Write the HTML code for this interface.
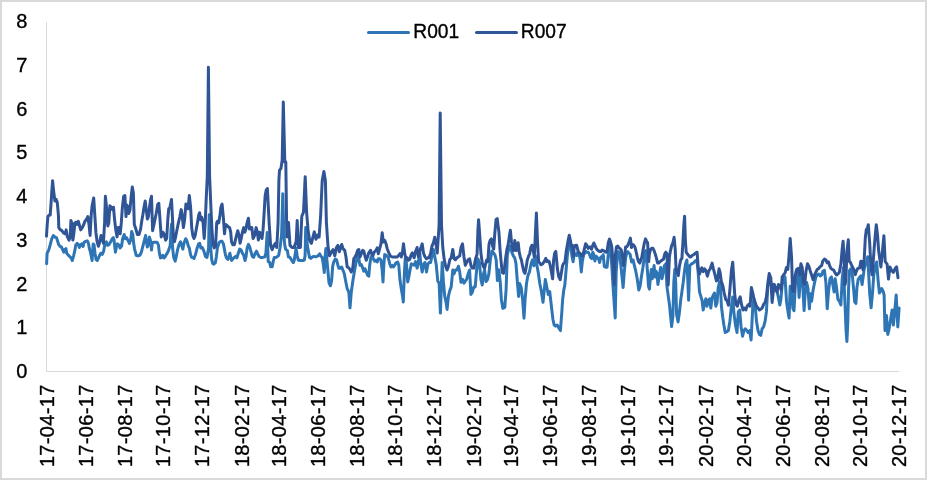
<!DOCTYPE html>
<html><head><meta charset="utf-8"><title>R001 R007</title>
<style>
html,body{margin:0;padding:0;background:#fff;}
body{width:927px;height:480px;overflow:hidden;}
svg{display:block;will-change:transform;font-family:"Liberation Sans",sans-serif;fill:#000;}
text{stroke:#000;stroke-width:0.35px;}
</style></head><body>
<svg width="927" height="480" viewBox="0 0 927 480">
<rect x="1" y="1" width="925" height="478" fill="#fff" stroke="#d9d9d9" stroke-width="2"/>
<path d="M46.5 22V371.5H899" fill="none" stroke="#d9d9d9" stroke-width="1"/>
<text x="27.3" y="378.16" text-anchor="end" font-size="20">0</text>
<text x="27.3" y="334.41" text-anchor="end" font-size="20">1</text>
<text x="27.3" y="290.66" text-anchor="end" font-size="20">2</text>
<text x="27.3" y="246.91" text-anchor="end" font-size="20">3</text>
<text x="27.3" y="203.16" text-anchor="end" font-size="20">4</text>
<text x="27.3" y="159.41" text-anchor="end" font-size="20">5</text>
<text x="27.3" y="115.66" text-anchor="end" font-size="20">6</text>
<text x="27.3" y="71.91" text-anchor="end" font-size="20">7</text>
<text x="27.3" y="28.16" text-anchor="end" font-size="20">8</text>
<text transform="translate(53.96,384.7) rotate(-90)" text-anchor="end" font-size="20" textLength="82.4" lengthAdjust="spacing">17-04-17</text>
<text transform="translate(92.76,384.7) rotate(-90)" text-anchor="end" font-size="20" textLength="82.4" lengthAdjust="spacing">17-06-17</text>
<text transform="translate(131.55,384.7) rotate(-90)" text-anchor="end" font-size="20" textLength="82.4" lengthAdjust="spacing">17-08-17</text>
<text transform="translate(170.35,384.7) rotate(-90)" text-anchor="end" font-size="20" textLength="82.4" lengthAdjust="spacing">17-10-17</text>
<text transform="translate(209.15,384.7) rotate(-90)" text-anchor="end" font-size="20" textLength="82.4" lengthAdjust="spacing">17-12-17</text>
<text transform="translate(248.58,384.7) rotate(-90)" text-anchor="end" font-size="20" textLength="82.4" lengthAdjust="spacing">18-02-17</text>
<text transform="translate(286.10,384.7) rotate(-90)" text-anchor="end" font-size="20" textLength="82.4" lengthAdjust="spacing">18-04-17</text>
<text transform="translate(324.90,384.7) rotate(-90)" text-anchor="end" font-size="20" textLength="82.4" lengthAdjust="spacing">18-06-17</text>
<text transform="translate(363.70,384.7) rotate(-90)" text-anchor="end" font-size="20" textLength="82.4" lengthAdjust="spacing">18-08-17</text>
<text transform="translate(402.49,384.7) rotate(-90)" text-anchor="end" font-size="20" textLength="82.4" lengthAdjust="spacing">18-10-17</text>
<text transform="translate(441.29,384.7) rotate(-90)" text-anchor="end" font-size="20" textLength="82.4" lengthAdjust="spacing">18-12-17</text>
<text transform="translate(480.72,384.7) rotate(-90)" text-anchor="end" font-size="20" textLength="82.4" lengthAdjust="spacing">19-02-17</text>
<text transform="translate(518.25,384.7) rotate(-90)" text-anchor="end" font-size="20" textLength="82.4" lengthAdjust="spacing">19-04-17</text>
<text transform="translate(557.04,384.7) rotate(-90)" text-anchor="end" font-size="20" textLength="82.4" lengthAdjust="spacing">19-06-17</text>
<text transform="translate(595.84,384.7) rotate(-90)" text-anchor="end" font-size="20" textLength="82.4" lengthAdjust="spacing">19-08-17</text>
<text transform="translate(634.64,384.7) rotate(-90)" text-anchor="end" font-size="20" textLength="82.4" lengthAdjust="spacing">19-10-17</text>
<text transform="translate(673.43,384.7) rotate(-90)" text-anchor="end" font-size="20" textLength="82.4" lengthAdjust="spacing">19-12-17</text>
<text transform="translate(712.87,384.7) rotate(-90)" text-anchor="end" font-size="20" textLength="82.4" lengthAdjust="spacing">20-02-17</text>
<text transform="translate(751.03,384.7) rotate(-90)" text-anchor="end" font-size="20" textLength="82.4" lengthAdjust="spacing">20-04-17</text>
<text transform="translate(789.82,384.7) rotate(-90)" text-anchor="end" font-size="20" textLength="82.4" lengthAdjust="spacing">20-06-17</text>
<text transform="translate(828.62,384.7) rotate(-90)" text-anchor="end" font-size="20" textLength="82.4" lengthAdjust="spacing">20-08-17</text>
<text transform="translate(867.42,384.7) rotate(-90)" text-anchor="end" font-size="20" textLength="82.4" lengthAdjust="spacing">20-10-17</text>
<text transform="translate(906.21,384.7) rotate(-90)" text-anchor="end" font-size="20" textLength="82.4" lengthAdjust="spacing">20-12-17</text>
<polyline points="46.6,263.7 47.1,253.2 48.7,250.1 50.2,244.9 51.8,238.7 53.4,235.5 54.9,237.1 56.5,237.6 57.8,241.8 58.6,244.4 60.1,246.5 61.5,247.0 62.8,250.1 63.8,252.2 64.8,249.6 65.9,248.6 66.7,253.2 68.0,254.8 69.5,256.4 71.1,257.9 72.3,260.5 73.7,255.3 74.7,251.2 75.8,244.9 77.1,243.4 78.4,244.4 79.4,247.5 80.5,244.9 81.7,243.9 83.1,246.5 84.1,242.3 85.7,241.3 87.2,240.8 88.3,242.8 89.3,248.0 90.7,253.2 92.1,260.5 93.2,243.9 94.0,244.4 95.0,253.2 96.1,259.5 97.3,260.5 98.7,257.4 99.7,255.3 100.8,253.2 102.3,254.3 103.6,251.2 104.9,243.9 106.3,241.8 107.5,245.4 109.1,244.4 110.7,241.8 112.2,238.7 113.3,237.6 114.0,239.7 115.4,252.2 116.4,247.0 117.4,243.9 119.0,244.9 120.0,248.0 121.6,246.0 122.6,238.7 124.2,234.5 125.2,238.7 126.5,237.6 127.9,240.2 129.4,243.4 130.7,239.7 131.7,231.4 132.8,234.5 133.6,242.8 134.6,249.1 136.2,255.3 137.8,255.9 139.8,255.3 141.4,252.2 142.4,248.0 144.0,241.8 145.6,235.5 146.3,240.8 147.3,247.0 148.4,244.9 149.4,237.1 150.5,240.8 151.5,250.1 152.3,242.8 153.9,242.3 155.5,242.3 157.0,242.3 158.4,244.9 159.4,253.2 160.5,257.9 161.7,257.4 162.8,255.3 164.0,257.9 165.4,256.4 166.4,254.3 167.8,252.2 169.0,249.1 170.2,245.4 171.1,228.2 171.6,224.1 172.6,248.0 173.7,257.4 175.2,261.1 176.3,256.4 177.5,250.1 178.9,244.9 180.5,241.8 181.5,244.9 182.8,249.1 184.1,242.8 185.7,238.7 186.9,240.8 188.3,246.0 189.3,248.0 190.7,255.3 191.9,257.4 193.2,257.9 194.0,258.5 195.6,254.3 197.1,248.0 198.7,243.9 199.7,243.4 200.8,248.0 202.3,247.5 203.9,251.2 205.5,256.4 207.0,257.4 208.6,248.0 209.2,214.8 210.7,248.0 211.7,259.5 212.8,263.7 213.8,264.2 215.4,262.6 216.4,256.4 217.4,248.0 219.0,242.8 220.6,241.3 222.1,241.3 223.4,243.9 224.4,249.1 225.5,255.3 226.8,258.5 227.9,259.5 228.9,256.4 229.9,253.2 230.7,257.4 231.7,260.5 233.1,258.5 234.4,257.4 235.7,256.4 236.9,257.9 238.3,253.2 239.6,249.1 241.1,250.1 242.4,253.2 243.8,255.3 245.0,260.5 246.1,256.4 247.1,248.0 248.4,244.4 249.7,247.0 251.1,252.2 252.3,256.4 253.6,257.4 255.2,253.2 256.5,251.2 257.8,254.3 259.1,256.4 260.7,257.4 262.8,257.4 264.8,256.9 265.9,253.2 267.2,232.5 268.2,261.6 269.6,262.1 270.7,266.8 272.2,266.8 273.3,261.0 274.3,257.4 275.9,257.4 277.5,256.4 278.7,255.3 280.1,247.5 281.6,235.0 282.8,193.8 283.9,235.0 284.8,245.4 285.8,249.6 287.4,250.6 288.4,256.9 290.0,257.4 291.5,260.0 293.3,262.6 294.3,260.0 295.4,252.7 296.0,248.3 297.2,255.8 298.3,260.0 299.9,260.5 301.4,260.5 303.0,260.5 304.3,260.0 305.1,255.8 305.7,227.5 306.8,241.2 308.2,250.6 309.5,257.4 310.8,258.4 312.4,256.9 313.9,256.4 315.5,256.9 317.0,256.4 318.6,255.3 319.6,253.8 321.0,256.4 322.2,257.4 323.3,264.2 324.3,272.5 325.2,255.8 325.9,248.5 327.5,266.2 329.0,282.9 330.4,285.8 331.6,280.8 332.7,266.2 333.7,262.1 335.3,259.0 336.6,260.0 337.9,265.2 338.9,268.3 340.2,268.3 341.7,267.0 343.0,270.3 344.3,273.7 345.5,280.3 347.2,288.7 348.8,292.0 350.0,307.8 351.3,292.0 352.7,282.0 354.3,272.0 356.0,262.8 357.7,255.3 358.8,258.7 360.0,265.3 361.3,264.5 362.7,267.8 363.8,271.2 365.0,268.7 366.3,272.0 367.7,275.3 368.8,276.2 369.7,265.3 371.0,257.0 372.2,255.3 373.3,258.7 374.7,261.2 376.0,260.3 377.2,262.0 378.3,258.7 379.7,258.7 381.0,260.3 382.2,270.3 383.0,282.0 383.8,265.3 384.7,254.5 386.0,255.3 387.2,256.2 388.3,257.8 389.7,263.7 391.0,267.0 392.2,265.3 393.3,267.0 394.7,265.3 396.0,262.8 397.7,262.0 398.8,265.3 400.0,280.3 401.3,288.7 402.7,297.0 403.3,302.0 404.3,275.3 405.2,258.7 406.3,262.0 407.7,282.0 408.8,277.0 410.0,270.3 411.3,263.7 414.1,265.3 415.6,261.6 417.1,268.1 418.4,261.6 419.8,253.1 420.9,264.4 422.2,271.9 423.5,264.4 425.0,262.5 426.5,271.9 427.8,264.4 429.1,262.5 430.6,262.5 432.1,255.0 433.4,249.4 434.8,256.9 436.2,264.4 437.8,281.2 439.1,283.1 440.4,313.1 441.5,281.2 442.2,262.5 443.4,281.2 444.7,296.2 446.0,301.9 447.1,309.4 448.4,296.2 449.8,290.6 451.2,286.9 452.8,270.0 454.1,273.8 455.4,270.0 456.9,270.0 458.4,266.2 459.7,271.9 461.0,282.2 462.5,279.4 464.0,283.1 465.3,281.2 466.6,279.4 468.1,273.8 469.6,270.0 470.9,294.4 472.2,292.5 473.8,286.9 475.2,286.9 476.6,270.0 477.9,258.8 479.4,262.5 480.9,279.4 482.2,285.0 483.5,273.8 484.6,270.0 486.0,281.6 487.5,279.6 488.9,273.6 490.3,259.8 491.9,250.9 493.5,252.9 494.9,254.8 496.2,259.8 497.4,280.6 498.8,269.7 500.2,281.6 501.4,299.4 502.8,308.3 504.8,307.3 506.1,289.5 507.3,255.8 508.7,247.9 510.1,245.9 511.7,251.9 513.3,255.8 514.7,257.8 516.0,263.8 517.2,279.6 518.6,296.4 519.6,283.5 521.2,287.5 522.6,299.4 524.0,318.2 525.1,299.4 526.5,283.5 527.9,275.6 529.5,271.7 531.1,263.8 532.5,259.8 533.9,265.7 535.4,255.8 537.0,265.7 538.4,273.6 539.8,283.5 541.4,291.5 543.0,302.3 544.3,289.5 545.3,279.6 546.9,287.5 548.3,294.4 549.7,291.5 551.3,305.3 552.9,319.2 554.2,325.1 555.6,326.1 557.1,325.0 560.4,330.6 561.8,312.5 562.6,300.0 563.7,290.6 564.9,284.4 566.2,268.8 567.3,256.2 568.4,246.9 569.6,243.0 570.9,248.4 572.0,256.2 573.1,261.7 574.3,253.1 575.6,254.7 576.7,255.5 577.8,252.3 579.0,253.9 580.2,259.4 581.3,271.9 582.4,260.9 583.7,254.7 584.9,253.1 586.0,251.6 587.1,252.3 588.4,252.3 589.6,254.7 590.7,257.8 591.8,258.6 592.8,252.3 593.8,254.7 594.9,260.9 596.2,256.2 597.4,257.8 598.5,258.6 599.6,262.5 600.9,257.0 602.1,257.8 603.2,254.7 604.3,266.4 605.6,267.2 607.1,267.2 608.4,253.1 609.5,243.0 610.6,250.0 611.8,265.6 613.1,287.5 615.2,318.0 616.2,271.9 617.3,256.2 618.4,251.6 619.6,254.7 620.9,265.6 622.0,276.6 623.1,287.5 624.3,271.9 625.6,257.8 626.7,253.1 627.8,251.6 630.1,254.4 631.6,261.9 633.1,260.0 634.4,265.6 635.8,271.2 637.2,278.8 638.8,290.0 640.1,286.2 641.4,276.9 642.9,267.5 644.4,256.2 645.7,250.6 646.6,260.0 647.6,273.1 648.5,286.2 649.4,289.1 650.4,276.9 651.3,269.4 652.2,278.8 653.2,271.2 654.1,265.6 655.1,276.9 656.0,271.2 656.9,273.1 657.9,284.4 659.4,275.0 660.7,267.5 662.0,278.8 663.1,273.1 664.4,265.6 665.8,263.8 666.9,286.2 668.2,295.6 669.5,305.0 670.6,316.2 671.6,326.6 672.9,316.2 673.8,282.5 674.8,269.4 675.7,282.5 676.6,314.4 678.1,321.9 679.4,312.5 680.8,299.4 681.9,291.9 683.2,282.5 684.5,271.2 685.6,263.8 686.9,260.0 687.9,282.5 688.6,300.3 689.8,265.6 691.6,263.8 693.5,262.8 695.4,260.9 696.9,260.0 698.2,273.1 699.5,291.9 702.1,300.6 703.2,310.0 704.6,302.5 705.9,298.8 707.0,306.2 708.3,300.6 709.6,298.8 710.8,308.1 712.1,297.8 713.4,295.0 714.5,293.1 715.8,306.2 717.1,302.5 718.2,287.5 719.6,281.9 720.5,287.5 721.4,306.2 722.8,317.5 723.9,325.0 725.2,332.5 727.1,331.6 728.4,330.6 729.9,321.2 731.4,306.2 732.7,296.9 734.0,313.8 735.5,325.0 737.0,332.5 738.3,311.9 739.6,310.0 741.1,326.9 742.6,336.2 743.9,330.6 745.2,328.8 746.8,330.6 748.2,332.5 749.6,330.6 751.1,340.0 752.8,306.2 753.9,298.8 755.2,306.2 756.5,321.2 758.0,330.6 759.5,334.4 760.8,335.3 762.1,328.8 763.6,326.9 765.1,321.2 766.4,311.9 767.8,287.5 769.2,278.1 770.8,281.9 772.1,291.2 774.1,284.4 775.6,290.0 777.1,291.9 778.4,297.5 779.8,305.0 780.9,299.4 782.2,284.4 783.5,278.8 785.0,276.9 786.5,301.2 787.8,310.6 789.1,318.1 790.2,286.2 791.6,291.9 792.9,308.8 794.0,310.6 795.3,286.2 796.6,271.2 797.8,271.2 799.1,297.5 800.4,276.9 801.5,267.5 802.8,286.2 804.1,310.6 805.2,291.9 806.6,282.5 807.9,288.1 809.4,308.8 810.3,293.8 811.6,301.2 813.1,290.0 814.6,282.5 815.9,276.9 817.2,275.0 818.8,274.1 820.2,275.9 821.6,275.0 822.9,271.2 824.4,270.3 825.9,282.5 827.2,308.8 828.5,291.9 830.0,278.8 831.5,276.9 832.8,284.4 834.1,291.9 835.2,278.8 836.6,288.1 837.9,299.4 839.4,301.2 840.9,305.0 842.2,278.8 843.5,267.5 846.1,331.2 846.9,341.5 847.8,322.5 848.6,287.9 849.5,270.6 850.7,268.9 852.1,272.4 853.5,287.9 854.7,301.8 855.9,303.5 856.9,287.9 858.2,279.3 859.4,277.6 860.8,275.8 862.1,284.5 863.3,275.8 864.2,268.9 865.6,263.7 866.8,262.0 867.7,256.8 868.5,270.6 869.7,293.1 871.1,307.8 872.5,293.1 873.7,275.8 875.4,265.5 876.7,262.0 878.0,279.3 879.4,293.1 880.4,291.2 881.7,288.5 883.1,291.2 884.1,295.0 885.0,330.6 886.5,315.6 887.8,334.4 889.1,328.8 890.6,319.4 892.1,310.0 893.4,325.0 894.8,310.0 896.2,295.0 897.8,326.9 899.1,308.1" fill="none" stroke="#2E75B6" stroke-width="3" stroke-linejoin="round" stroke-linecap="round"/>
<polyline points="46.5,236.2 47.0,227.6 47.9,216.6 49.0,215.1 50.2,215.1 51.0,204.1 51.8,191.6 52.6,180.7 53.7,191.6 54.9,201.0 56.2,199.4 57.3,202.6 58.4,215.1 58.8,227.6 60.4,229.9 62.0,230.7 63.5,233.0 65.1,233.8 66.2,229.9 67.4,236.9 69.0,240.1 70.2,236.9 70.9,220.5 71.8,222.9 72.9,240.1 74.0,232.2 74.9,222.9 76.0,222.1 77.1,224.4 78.4,221.3 79.6,226.0 80.7,229.9 82.3,227.6 83.8,224.4 84.9,221.3 86.2,219.8 87.8,216.6 89.0,224.4 90.1,235.4 91.2,215.1 92.1,205.7 93.7,197.9 94.8,215.1 95.9,232.2 97.1,241.6 98.4,246.3 99.9,241.6 101.0,235.4 102.1,236.9 103.4,243.2 104.6,222.9 105.4,196.3 106.5,207.2 107.8,226.0 108.8,222.9 109.9,205.7 111.2,207.2 112.4,209.6 113.5,207.2 114.6,219.8 115.9,230.7 117.1,236.9 118.2,227.6 119.0,227.6 120.2,233.8 121.3,222.9 122.4,207.2 123.7,196.3 124.9,195.5 126.0,216.6 126.8,204.9 127.6,206.5 128.7,213.5 129.9,210.4 131.2,196.3 132.3,186.9 133.4,193.2 134.3,224.4 135.9,229.1 137.4,234.6 139.0,234.6 140.6,229.1 141.7,221.3 142.8,215.1 144.0,207.2 145.2,201.0 146.3,210.4 147.4,219.0 148.4,216.6 149.5,207.2 150.6,199.4 151.5,196.3 152.6,230.7 154.6,221.3 156.2,213.5 157.8,204.1 158.8,203.3 159.9,218.2 161.2,236.9 162.8,232.2 164.0,233.8 165.6,240.1 166.7,238.5 167.8,219.8 168.7,208.8 169.8,208.0 170.6,204.1 171.5,199.4 172.4,216.6 173.4,236.9 174.5,241.6 175.6,236.9 176.8,230.7 178.4,222.9 179.9,216.6 181.2,209.6 182.3,216.6 183.4,227.6 184.6,219.8 185.9,204.1 187.0,205.7 188.1,208.8 189.3,195.5 190.6,207.2 191.7,227.6 192.8,235.4 194.0,238.5 195.2,235.4 196.3,229.1 197.4,222.9 198.7,215.1 199.6,212.7 200.6,219.8 201.8,217.4 203.1,222.9 204.2,238.5 205.2,222.9 206.2,199.4 207.3,176.0 208.4,67.2 209.6,176.0 210.9,207.2 212.0,230.7 213.1,244.8 214.3,247.9 215.6,246.3 216.7,222.9 217.4,221.3 218.7,222.9 219.8,216.6 220.9,207.2 222.1,204.1 223.4,218.2 224.5,233.8 225.6,224.4 226.8,225.2 228.1,226.8 229.6,227.6 230.7,232.2 231.5,241.6 232.8,244.8 234.3,244.8 235.4,240.1 236.5,235.4 237.8,230.7 239.0,235.4 240.1,243.2 241.2,238.5 242.4,232.2 243.7,227.6 244.8,232.2 245.9,229.1 247.1,222.9 248.4,218.2 249.5,229.1 250.6,227.6 251.8,227.6 253.1,238.5 254.6,235.4 256.2,227.6 257.3,232.2 258.4,240.1 259.6,232.2 260.9,235.4 262.0,238.5 263.1,229.1 264.0,215.1 265.1,196.3 266.2,190.1 267.4,188.5 269.1,222.5 270.6,245.4 272.2,249.6 273.9,245.4 275.4,243.3 276.8,247.5 278.1,222.5 278.9,180.8 279.5,170.4 281.0,168.3 282.2,160.0 283.3,102.1 284.8,162.1 285.8,162.1 286.8,237.1 288.5,222.5 290.0,245.4 292.0,247.5 294.1,247.5 296.2,241.2 297.2,220.4 298.3,247.5 300.4,247.5 301.8,216.2 303.5,212.1 305.2,176.7 306.6,212.1 308.1,230.8 309.8,241.2 311.4,243.3 312.9,237.1 314.3,231.9 316.0,239.2 317.7,235.0 319.1,237.1 320.6,216.2 322.2,180.8 323.9,171.5 325.4,180.8 326.4,222.5 328.1,247.5 329.5,255.8 331.6,251.7 333.1,249.6 334.8,255.8 336.4,247.5 337.9,245.4 339.3,251.7 341.7,244.5 343.0,248.7 344.7,250.3 346.0,257.0 347.2,267.0 348.8,267.8 350.0,269.5 351.3,272.0 352.7,268.7 353.8,258.7 355.0,257.0 356.3,254.5 357.7,250.3 358.8,249.5 360.0,257.0 361.3,253.7 362.7,250.3 363.8,251.2 365.0,256.2 366.3,260.3 367.7,256.2 368.8,252.8 370.5,250.3 371.7,253.7 373.0,255.3 374.3,252.0 376.0,250.3 377.2,247.8 378.3,253.7 379.7,248.7 381.0,243.7 382.2,232.8 383.3,242.0 384.7,240.3 386.0,243.7 387.2,248.7 388.8,252.8 390.5,256.2 392.2,257.0 394.7,257.0 397.2,257.0 398.8,255.3 400.0,253.7 401.3,257.0 402.7,250.3 403.5,243.7 404.7,253.7 406.0,258.7 407.2,257.8 408.3,260.3 409.7,259.5 411.0,255.3 412.2,252.8 414.1,257.8 415.6,251.2 417.1,247.5 418.4,256.9 420.3,249.4 422.2,243.8 423.5,253.1 425.0,256.9 426.5,258.8 427.8,257.8 429.1,257.8 430.6,253.1 432.1,245.6 433.4,242.8 434.8,237.2 436.2,245.6 437.2,253.1 438.1,240.0 439.1,225.0 440.2,113.1 441.5,225.0 442.8,247.5 444.1,258.8 445.6,266.2 447.1,270.0 448.4,266.2 449.8,259.7 451.2,257.8 452.8,249.4 454.1,258.8 455.4,259.7 456.9,257.8 458.4,256.9 459.7,255.9 461.0,247.5 462.5,243.8 464.0,256.9 465.3,265.3 466.6,262.5 468.1,259.7 469.6,258.8 470.9,265.3 472.2,268.1 473.8,268.1 475.6,258.8 477.1,254.1 477.9,230.6 478.6,219.8 479.8,236.2 480.9,253.1 482.2,262.5 483.1,266.2 484.6,268.1 485.4,264.7 486.7,260.0 487.9,261.6 489.0,244.4 490.1,240.5 491.4,238.9 492.6,245.9 493.7,249.1 494.8,233.4 496.1,219.4 497.2,218.6 498.9,231.9 500.0,249.1 501.1,261.6 502.3,272.5 503.6,273.3 504.7,266.2 505.8,256.9 507.0,249.1 508.2,244.4 509.3,236.6 510.4,230.3 511.4,241.2 512.5,247.5 513.6,250.6 514.8,240.5 516.1,250.6 517.2,245.9 518.2,242.8 519.2,252.2 520.3,256.9 521.4,260.0 522.6,266.2 523.9,271.7 525.0,273.3 526.1,267.8 527.3,260.0 528.6,256.1 529.7,253.8 530.8,247.5 532.0,245.2 533.2,250.6 534.3,256.9 535.4,233.4 536.4,213.1 537.5,241.2 538.6,261.6 539.8,263.1 541.1,264.7 542.6,263.9 544.2,261.6 545.8,258.4 546.8,261.6 547.9,260.8 549.2,261.6 550.4,266.2 551.5,272.5 552.6,278.8 553.6,260.0 554.7,253.0 555.8,251.4 557.4,268.8 558.7,276.6 560.2,279.7 561.5,271.9 562.6,265.6 563.7,263.3 564.9,262.5 566.2,251.6 567.3,245.3 568.4,239.1 569.3,235.2 570.4,240.6 571.5,246.9 572.4,245.3 573.5,256.2 574.3,246.1 575.6,245.3 576.7,245.3 577.8,250.0 578.7,253.1 579.8,253.1 580.9,254.7 582.1,256.2 583.4,253.1 584.5,248.4 585.6,243.8 586.8,245.3 588.1,248.4 589.2,246.9 590.2,246.9 591.5,249.2 592.8,245.3 593.8,243.0 594.9,245.3 596.2,248.4 597.4,250.0 598.5,250.8 599.6,251.6 600.9,251.6 602.1,250.0 603.7,250.8 604.8,251.6 605.9,252.3 607.1,250.8 608.4,242.2 609.5,239.1 610.6,242.2 611.8,246.9 613.1,264.1 614.2,284.4 615.2,256.2 616.5,246.9 617.8,246.1 618.8,247.7 619.9,248.4 621.2,250.0 622.4,256.2 623.5,265.6 624.6,256.2 625.6,246.9 626.7,246.9 627.8,245.3 629.4,241.2 630.4,238.1 631.5,247.5 632.6,244.4 633.8,245.2 635.1,247.5 636.2,252.2 637.2,256.9 638.5,261.6 639.8,263.1 640.8,260.0 641.9,256.9 643.2,249.1 644.4,242.8 645.5,238.9 646.6,241.2 647.6,242.8 648.7,261.6 649.4,253.8 650.7,249.1 651.8,248.3 652.9,248.3 654.1,250.6 655.4,254.5 656.5,258.4 657.6,263.1 658.8,263.1 660.1,261.6 661.2,260.8 662.2,260.0 663.5,259.2 664.8,253.8 665.8,252.2 666.9,253.8 668.2,285.0 669.4,256.9 670.5,250.6 671.6,245.9 672.9,242.8 674.1,237.3 675.2,249.1 676.0,267.8 677.2,272.5 678.3,275.6 679.4,266.2 680.7,260.0 681.9,258.4 683.0,241.2 683.8,225.6 684.6,216.2 685.4,241.2 686.2,252.2 687.2,253.8 688.5,255.3 689.8,256.9 690.8,256.9 692.4,255.3 694.0,254.5 695.5,253.0 697.1,252.2 698.2,267.8 699.4,274.1 701.8,267.8 703.2,271.6 704.6,268.8 705.9,270.6 707.4,276.2 708.9,270.6 710.2,268.8 712.1,263.1 713.4,268.8 714.9,274.4 716.4,280.9 717.7,280.0 719.0,268.8 720.1,272.5 721.4,281.9 722.8,285.6 724.2,293.1 725.8,299.7 727.1,300.6 728.4,305.3 729.9,289.4 731.4,270.6 732.7,262.2 733.6,276.2 734.6,293.1 735.9,304.4 737.4,306.2 738.9,299.7 740.2,296.9 741.5,304.4 743.0,310.0 744.5,308.1 745.8,310.0 747.1,306.2 748.6,304.4 750.1,306.2 751.4,287.5 752.8,293.1 753.9,298.8 755.2,302.5 756.5,306.2 758.0,308.1 759.5,310.0 760.8,309.1 762.1,308.1 763.6,304.4 765.1,302.5 766.4,296.9 767.8,283.8 769.2,273.4 770.8,278.1 772.1,302.5 774.1,284.4 775.6,288.1 777.1,291.9 778.4,284.4 779.8,286.2 781.2,290.0 782.2,276.9 783.5,275.0 785.0,273.1 786.5,267.5 787.8,269.4 788.8,258.1 790.2,238.4 791.6,258.1 792.5,290.0 794.0,291.9 795.3,275.0 796.6,269.4 798.1,268.4 799.6,275.0 800.9,263.8 802.2,267.5 803.4,282.5 804.7,284.4 806.0,271.2 807.5,263.8 809.0,266.6 810.3,271.2 811.6,275.0 813.1,279.7 814.6,275.0 815.9,272.2 817.2,269.4 818.8,268.4 820.2,266.6 821.6,265.6 822.9,260.9 824.4,259.1 825.9,260.0 827.2,262.8 828.5,261.9 829.6,265.6 830.9,268.4 832.2,269.4 833.8,270.3 835.2,273.1 836.6,275.0 837.9,274.1 839.4,272.2 840.9,263.8 842.2,248.8 843.1,241.2 844.1,258.1 845.0,284.7 845.8,281.3 847.0,251.3 848.3,239.7 849.2,261.3 850.3,262.2 851.7,265.5 853.0,268.0 854.2,270.5 855.3,274.7 856.3,271.3 857.5,268.8 858.7,268.0 859.7,268.0 860.8,261.3 861.7,261.3 863.0,269.7 864.2,259.7 865.3,238.0 866.3,229.7 867.5,228.0 868.3,224.7 869.7,243.0 870.8,264.7 872.0,274.7 873.0,264.7 874.2,248.0 875.3,234.7 876.3,224.7 877.5,234.7 878.7,251.3 880.9,266.9 882.5,250.6 883.9,235.7 885.2,261.5 887.1,264.2 888.5,279.1 889.9,266.9 891.8,270.9 893.4,272.3 895.3,268.2 896.6,266.9 898.0,277.7" fill="none" stroke="#2F5597" stroke-width="3" stroke-linejoin="round" stroke-linecap="round"/>
<line x1="368.5" y1="32.5" x2="408.5" y2="32.5" stroke="#2E75B6" stroke-width="3" stroke-linecap="round"/>
<text x="413.3" y="37.8" font-size="20" textLength="45.8" lengthAdjust="spacingAndGlyphs">R001</text>
<line x1="476.5" y1="32.5" x2="516.5" y2="32.5" stroke="#2F5597" stroke-width="3" stroke-linecap="round"/>
<text x="520.8" y="37.8" font-size="20" textLength="45.8" lengthAdjust="spacingAndGlyphs">R007</text>
</svg>
</body></html>
